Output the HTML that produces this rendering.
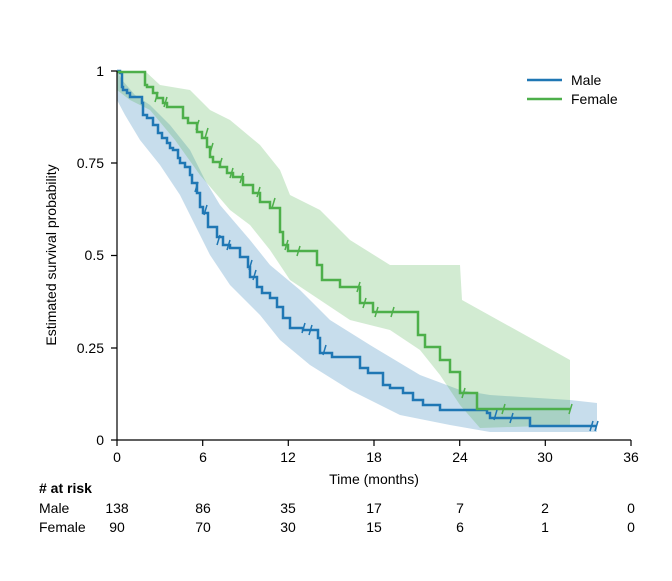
<!DOCTYPE html><html><head><style>body{margin:0;background:#fff}svg{font-family:"Liberation Sans",sans-serif}</style></head><body>
<svg width="672" height="576" viewBox="0 0 672 576" xmlns="http://www.w3.org/2000/svg">
<polygon fill="#1f77b4" fill-opacity="0.25" points="117,71 122,80 135,95 150,105 170,125 190,150 205,180 220,205 250,240 270,265 300,290 330,320 370,345 420,375 460,390 490,395 570,400 597,403 597,432 490,432 450,425 400,415 350,390 310,365 280,340 260,315 230,285 210,255 195,225 180,195 160,165 140,140 125,115 117,100"/>
<polygon fill="#4daf4a" fill-opacity="0.25" points="117,71 145,71 160,85 190,90 210,110 230,120 260,145 280,170 290,195 320,210 350,240 390,265 460,265 462,300 570,360 570,425 480,428 460,405 440,375 420,350 390,330 350,320 320,300 290,280 270,250 250,225 230,210 200,175 175,140 150,110 130,100 117,90"/>
<path fill="none" stroke="#1f77b4" stroke-width="2.5" d="M117,71H120V73H122V87H123V90H127V93H130V97H142V103H143V115H147V118H153V125H158V133H162V138H167V143H170V148H173V150H178V158H180V163H185V167H190V175H192V183H197V193H200V207H203V213H208V227H217V237H223V245H230V248H240V257H248V267H250V277H257V287H262V293H270V298H277V307H283V318H290V328H303V330H318V338H320V353H332V357H360V368H368V373H383V385H390V388H403V393H413V400H423V405H440V410H487V413H490V418H530V426H597"/>
<path fill="none" stroke="#4daf4a" stroke-width="2.5" d="M117,72H145V85H147V87H153V93H157V98H163V103H167V107H183V118H188V123H197V132H202V138H207V147H210V157H213V162H220V167H227V173H233V177H243V185H253V193H260V202H270V208H280V232H283V245H288V251H317V265H322V280H340V287H360V303H373V312H418V335H425V347H440V360H450V372H460V393H477V409H570"/>
<g stroke="#4daf4a" stroke-width="1.5">
<path d="M158,92l-3,10M167,97l-3,10M199,120l-3,10M208,128l-3,10M213,143l-3,10M222,158l-3,10M233,168l-3,10M243,173l-3,10M260,187l-3,10M275,198l-3,10M288,240l-3,10M300,246l-3,10M360,282l-3,10M366,298l-3,10M378,307l-3,10M394,307l-3,10M465,388l-3,10M505,404l-3,10M572,404l-3,10"/></g>
<g stroke="#1f77b4" stroke-width="1.5">
<path d="M198,182l-3,10M207,205l-3,10M220,235l-3,10M230,240l-3,10M252,260l-3,10M256,270l-3,10M305,323l-3,10M312,325l-3,10M326,345l-3,10M497,410l-3,10M513,413l-3,10M593,421l-3,10M598,421l-3,10"/></g>
<g stroke="#000" stroke-width="1.2" fill="none">
<path d="M117,71V440H631M117,440v6M202.7,440v6M288.3,440v6M374,440v6M459.7,440v6M545.3,440v6M631,440v6M117,71h-6M117,163h-6M117,255.5h-6M117,348h-6M117,440h-6"/></g>
<g font-size="14" fill="#000" text-anchor="middle">
<text x="117" y="462">0</text><text x="203" y="462">6</text><text x="288" y="462">12</text><text x="374" y="462">18</text><text x="460" y="462">24</text><text x="545" y="462">30</text><text x="631" y="462">36</text>
<text x="374" y="484">Time (months)</text>
</g>
<g font-size="14" text-anchor="end"><text x="104" y="76">1</text><text x="104" y="168">0.75</text><text x="104" y="260">0.5</text><text x="104" y="353">0.25</text><text x="104" y="445">0</text></g>
<text transform="translate(56,255) rotate(-90)" font-size="14" text-anchor="middle">Estimated survival probability</text>
<line x1="527" y1="80" x2="562" y2="80" stroke="#1f77b4" stroke-width="2.5"/><text x="571" y="85" font-size="14">Male</text>
<line x1="527" y1="99" x2="562" y2="99" stroke="#4daf4a" stroke-width="2.5"/><text x="571" y="104" font-size="14">Female</text>
<text x="39" y="493" font-size="14" font-weight="bold"># at risk</text>
<text x="39" y="513" font-size="14">Male</text><text x="39" y="532" font-size="14">Female</text>
<g font-size="14" text-anchor="middle">
<text x="117" y="513">138</text><text x="203" y="513">86</text><text x="288" y="513">35</text><text x="374" y="513">17</text><text x="460" y="513">7</text><text x="545" y="513">2</text><text x="631" y="513">0</text>
<text x="117" y="532">90</text><text x="203" y="532">70</text><text x="288" y="532">30</text><text x="374" y="532">15</text><text x="460" y="532">6</text><text x="545" y="532">1</text><text x="631" y="532">0</text>
</g>
</svg></body></html>
